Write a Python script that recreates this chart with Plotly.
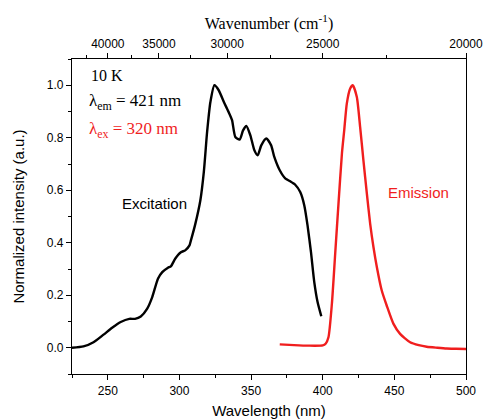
import plotly.graph_objects as go

# Excitation spectrum (lambda_em = 421 nm)
ex_wl = [225, 233, 240, 247, 253, 259, 265, 269, 273, 277.5, 281, 285, 288, 292, 294,
         297, 301, 304, 307, 308, 311, 314.6, 317, 319.3, 321.6, 324.4, 327.4, 331,
         334.3, 336.7, 339, 342, 344.4, 346.7, 349.5, 352.3, 354.6, 357.1, 360.6, 364,
         366.2, 370, 374, 377.3, 380.8, 384.3, 387.1, 389.4, 391.8, 394.1, 396.4, 399]
ex_int = [0.0, 0.005, 0.021, 0.05, 0.076, 0.098, 0.11, 0.11, 0.119, 0.149, 0.193, 0.263,
          0.288, 0.305, 0.31, 0.339, 0.364, 0.371, 0.39, 0.409, 0.47, 0.562, 0.669, 0.822,
          0.936, 1.0, 0.981, 0.936, 0.898, 0.867, 0.803, 0.793, 0.828, 0.845, 0.809, 0.752,
          0.733, 0.771, 0.797, 0.771, 0.727, 0.676, 0.644, 0.634, 0.621, 0.593, 0.543,
          0.466, 0.364, 0.25, 0.174, 0.12]

# Emission spectrum (lambda_ex = 320 nm)
em_wl = [370, 380, 390, 400, 402, 404, 406.4, 408.7, 411, 413.4, 415, 416.8, 419.1, 421,
         423.8, 426.1, 428.4, 430.8, 433.1, 435.4, 437.8, 441.2, 444.7, 449.3, 454, 461,
         467, 472.6, 480, 486.5, 493, 500]
em_int = [0.013, 0.01, 0.008, 0.009, 0.015, 0.04, 0.168, 0.358, 0.549, 0.74, 0.828, 0.93,
          0.987, 1.0, 0.955, 0.841, 0.714, 0.587, 0.473, 0.384, 0.307, 0.218, 0.16, 0.092,
          0.053, 0.021, 0.01, 0.004, 0.0, -0.003, -0.004, -0.005]

# Top axis (wavenumber) tick labels
wn_major = [40000, 35000, 30000, 25000, 20000]
wn_minor = [42500, 37500, 32500, 27500, 22500]

SANS = "Liberation Sans, Arial, sans-serif"
SERIF = "Liberation Serif, Times New Roman, serif"

fig = go.Figure()
fig.add_trace(go.Scatter(x=ex_wl, y=ex_int, mode="lines", line_shape="spline",
                         line=dict(color="black", width=2.4, smoothing=0.6), showlegend=False))
fig.add_trace(go.Scatter(x=em_wl, y=em_int, mode="lines", line_shape="spline",
                         line=dict(color="#f01e1e", width=2.4, smoothing=0.6), showlegend=False))
# invisible trace to attach the top axis
fig.add_trace(go.Scatter(x=[ex_wl[0], em_wl[-1]], y=[0, 0], xaxis="x2", mode="lines",
                         line=dict(color="rgba(0,0,0,0)"), hoverinfo="skip", showlegend=False))

axis_common = dict(showline=True, linecolor="black", linewidth=1.2, ticks="outside",
                   ticklen=5, tickwidth=1, tickcolor="black", showgrid=False, zeroline=False,
                   automargin=False,
                   tickfont=dict(family=SANS, size=12, color="black"))

fig.update_layout(
    width=484, height=419,
    margin=dict(l=72, r=18, t=59, b=45),
    plot_bgcolor="white", paper_bgcolor="white",
    xaxis=dict(range=[225, 500], tick0=250, dtick=50,
               minor=dict(dtick=25, tick0=225, ticks="outside", ticklen=3, tickcolor="black"),
               title=dict(text="Wavelength (nm)", font=dict(family=SANS, size=15, color="black"),
                          standoff=8),
               **axis_common),
    xaxis2=dict(overlaying="x", side="top", range=[225, 500],
                tickmode="array", tickvals=[1e7 / w for w in wn_major],
                ticktext=[str(w) for w in wn_major],
                minor=dict(tickmode="array", tickvals=[1e7 / w for w in wn_minor],
                           ticks="outside", ticklen=3, tickcolor="black"),
                title=dict(text="Wavenumber (cm<sup>-1</sup>)",
                           font=dict(family=SERIF, size=16, color="black"), standoff=3),
                **axis_common),
    yaxis=dict(range=[-0.1, 1.1], tick0=0, dtick=0.2, tickformat=".1f", mirror=True,
               minor=dict(dtick=0.1, tick0=0, ticks="outside", ticklen=3, tickcolor="black"),
               title=dict(text="Normalized intensity (a.u.)",
                          font=dict(family=SANS, size=15, color="black"), standoff=18),
               **axis_common),
)

fig.add_annotation(x=237, y=1.038, xref="x", yref="y", text="10 K", showarrow=False,
                   xanchor="left", font=dict(family=SERIF, size=16, color="black"))
fig.add_annotation(x=235.2, y=0.936, xref="x", yref="y", text="λ<sub>em</sub> = 421 nm",
                   showarrow=False, xanchor="left", font=dict(family=SERIF, size=17, color="black"))
fig.add_annotation(x=235.2, y=0.828, xref="x", yref="y", text="λ<sub>ex</sub> = 320 nm",
                   showarrow=False, xanchor="left", font=dict(family=SERIF, size=17, color="#f01e1e"))
fig.add_annotation(x=282.7, y=0.55, xref="x", yref="y", text="Excitation", showarrow=False,
                   font=dict(family=SANS, size=15, color="black"))
fig.add_annotation(x=466.7, y=0.59, xref="x", yref="y", text="Emission", showarrow=False,
                   font=dict(family=SANS, size=15, color="#f01e1e"))

fig.write_html("out.html", config={"displayModeBar": False},
               post_script="document.body.style.margin='0';document.body.style.overflow='hidden';")
